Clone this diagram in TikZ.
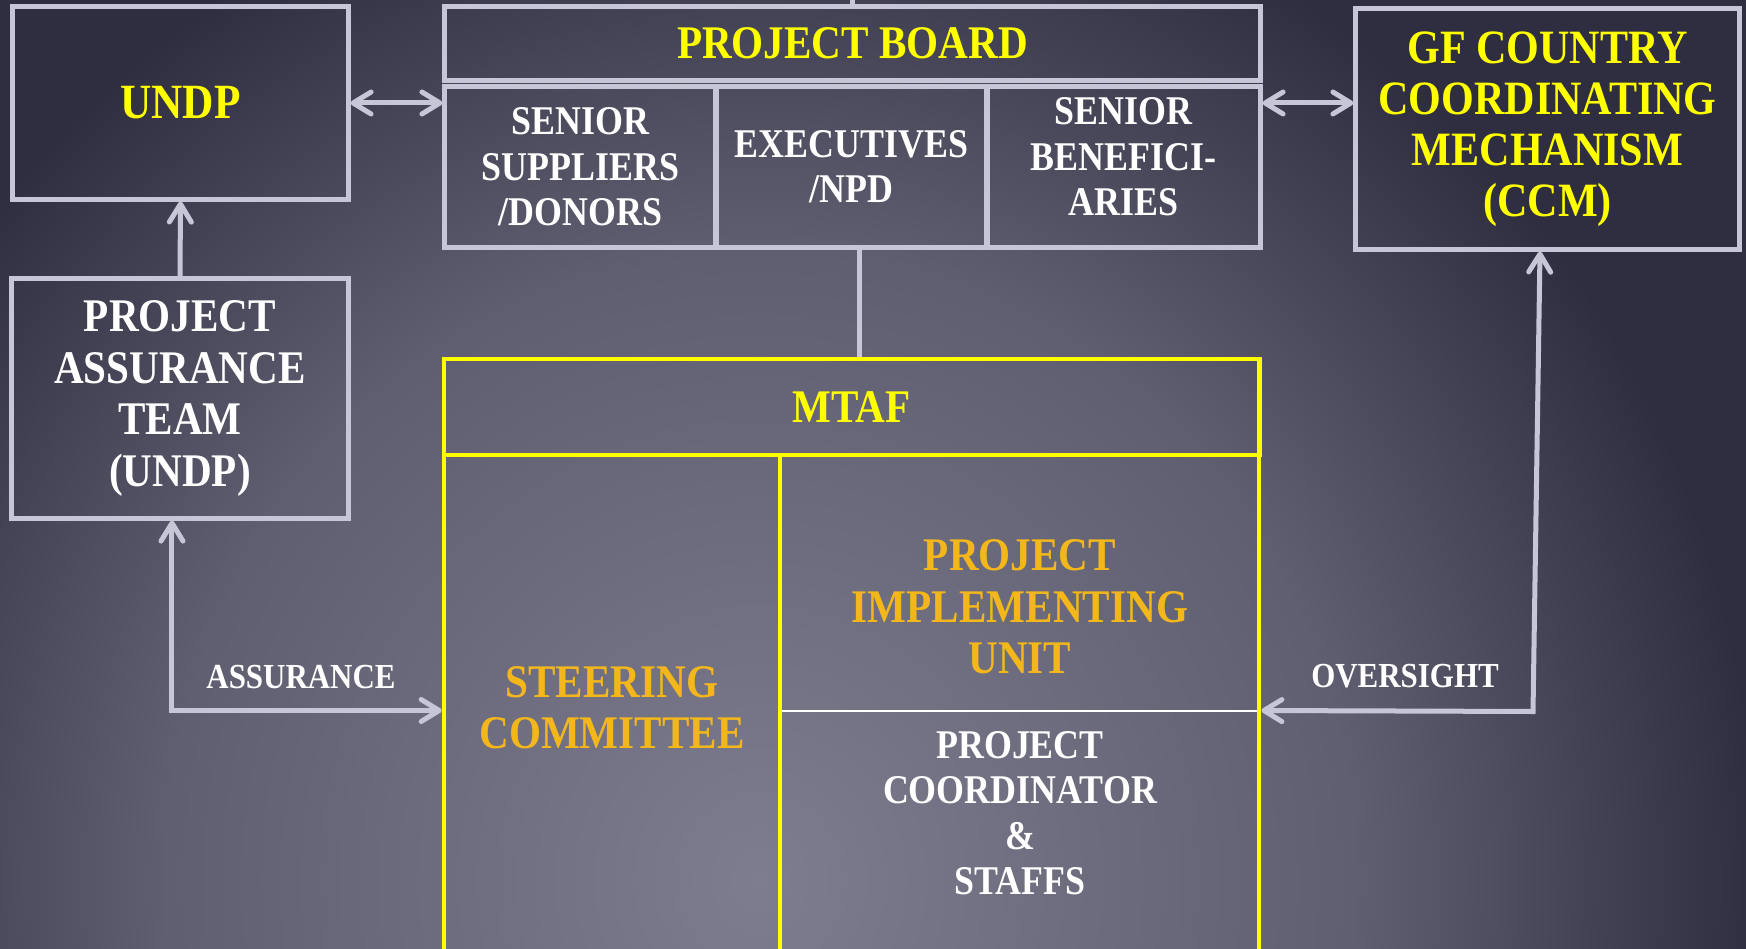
\documentclass[tikz,border=0pt]{standalone}
\usepackage{fontspec}
\setmainfont{Liberation Serif}[FakeStretch=0.88]
\usepackage{xcolor}
\usetikzlibrary{arrows.meta}

\definecolor{linegray}{HTML}{C6C6D6}
\definecolor{boardyellow}{HTML}{FFFF00}
\definecolor{unitorange}{HTML}{F3B71B}
\definecolor{slidedark}{rgb}{0.18,0.18,0.25}
\pgfdeclareradialshading{slidebg}{\pgfpoint{0bp}{0bp}}{rgb(0bp)=(0.49,0.49,0.56); rgb(15bp)=(0.37,0.37,0.44); rgb(25bp)=(0.18,0.18,0.25); rgb(50bp)=(0.18,0.18,0.25)}

\begin{document}
\begin{tikzpicture}[x=0.01cm,y=-0.01cm,
  box/.style={rectangle,draw=linegray,line width=0.5mm,align=center,inner sep=0pt},
  ybox/.style={rectangle,draw=boardyellow,line width=0.45mm,align=center,inner sep=0pt},
  link/.style={draw=linegray,line width=0.5mm},
  bigtxt/.style={font=\fontsize{13.3}{14.6}\selectfont\bfseries},
  smalltxt/.style={font=\fontsize{11.6}{12.9}\selectfont\bfseries},
  labeltxt/.style={font=\fontsize{10}{12}\selectfont\bfseries},
  >={Straight Barb[length=1.8mm,width=2.2mm,round]}]
\useasboundingbox (0,0) rectangle (1746,949);
\clip (0,0) rectangle (1746,949);
\fill[slidedark] (0,0) rectangle (1746,949);
\shade[shading=slidebg] (-240,-170) rectangle (1760,1930);
%\draw[help lines] (0,0) grid[step=1cm] (1746,949);
\path (180.5,103) node(undp) [box,minimum width=3.35cm,minimum height=1.92cm,text=boardyellow,font=\fontsize{14}{16}\selectfont\bfseries] {UNDP}
(852.5,43.5) node(board) [box,minimum width=8.15cm,minimum height=0.73cm,text=boardyellow,bigtxt] {PROJECT BOARD}
(580.5,167) node(sup) [box,minimum width=2.71cm,minimum height=1.6cm,text=white,smalltxt] {SENIOR\\SUPPLIERS\\/DONORS}
(851.5,167) node(exe) [box,minimum width=2.71cm,minimum height=1.6cm,text=white,smalltxt] {EXECUTIVES\\/NPD}
(1123.5,167) node(ben) [box,minimum width=2.73cm,minimum height=1.6cm] {}
(1123.5,157) node(bentext) [align=center,text=white,smalltxt] {SENIOR\\BENEFICI-\\ARIES}
(1547.5,129) node(ccm) [box,minimum width=3.83cm,minimum height=2.4cm,text=boardyellow,font=\fontsize{13.6}{14.5}\selectfont\bfseries] {GF COUNTRY\\COORDINATING\\MECHANISM\\(CCM)}
(180,398.5) node(pat) [box,minimum width=3.36cm,minimum height=2.39cm,text=white,bigtxt] {PROJECT\\ASSURANCE\\TEAM\\(UNDP)};
\coordinate (split) at (780,710.5);
\coordinate (ovc) at (1533,711.5);
\draw[white,line width=0.2mm] (split) -- (1259,710.5);
\path (851.5,407) node(mtaf) [ybox,minimum width=8.15cm,minimum height=0.96cm,text=boardyellow,bigtxt] {MTAF}
(612,707.5) node(steer) [ybox,minimum width=3.36cm,minimum height=5.05cm,text=unitorange,bigtxt] {STEERING\\COMMITTEE}
(1019.5,707.5) node(unit) [ybox,minimum width=4.79cm,minimum height=5.05cm] {}
(1020,607) node(piutext) [align=center,text=unitorange,bigtxt] {PROJECT\\IMPLEMENTING\\UNIT}
(1020,813) node(pcstext) [align=center,text=white,smalltxt] {PROJECT\\COORDINATOR\\\&\\STAFFS}
(301,677) node(assure) [text=white,labeltxt] {ASSURANCE}
(1405,676) node(oversee) [text=white,labeltxt] {OVERSIGHT};
\draw[link] (board.north) -- ++(0,-20);
\draw[link,<->] (undp.east) -- (sup.west |- undp.east);
\draw[link,<->] (ben.east |- undp.east) -- (ccm.west |- undp.east);
\draw[link,->] (pat.north) -- (undp.south);
\draw[link] ([xshift=0.08cm]exe.south) -- ([xshift=0.08cm]mtaf.north);
\draw[link,<->] ([xshift=-0.08cm]pat.south) |- (steer.west |- split);
\draw[link,<->] ([xshift=-0.075cm]ccm.south) -- (ovc) -- (unit.east |- split);
\end{tikzpicture}
\end{document}
